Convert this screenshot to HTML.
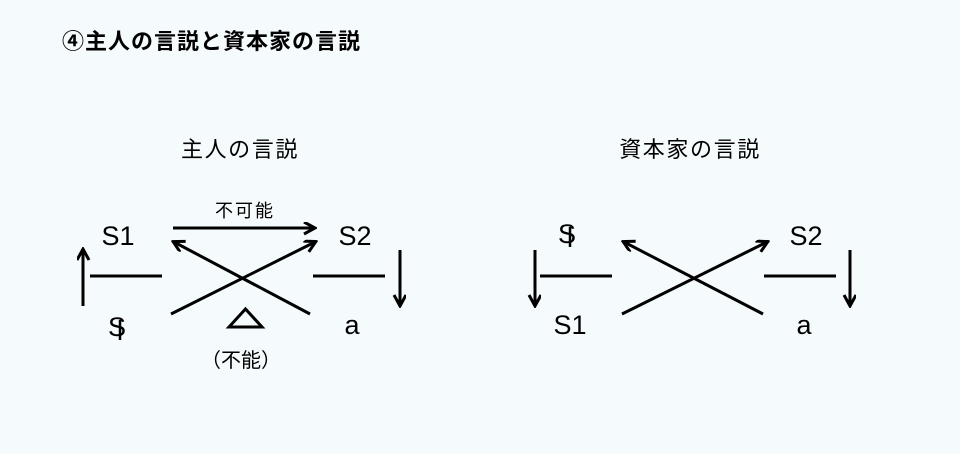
<!DOCTYPE html>
<html><head><meta charset="utf-8"><style>
html,body{margin:0;padding:0;background:#f5fafd;}
svg{display:block;}
text{font-family:"Liberation Sans","Noto Sans CJK JP",sans-serif;fill:#000;}
</style></head><body>
<svg width="960" height="454" viewBox="0 0 960 454" xmlns="http://www.w3.org/2000/svg">
<defs>
<marker id="ah" markerWidth="14" markerHeight="14" refX="11" refY="6" orient="auto" markerUnits="userSpaceOnUse">
<path d="M1,0 L12,6 L1,12" fill="none" stroke="#000" stroke-width="3"/>
</marker>
</defs>
<rect width="960" height="454" fill="#f5fafd"/>
<text x="62" y="49" font-size="22" font-weight="bold" letter-spacing="1">④主人の言説と資本家の言説</text>

<!-- left -->
<text x="240" y="157" font-size="22" text-anchor="middle" letter-spacing="1.6">主人の言説</text>
<text x="245" y="217" font-size="18" text-anchor="middle" letter-spacing="2">不可能</text>
<text x="118" y="245" font-size="27" text-anchor="middle">S1</text>
<text x="355" y="245" font-size="27" text-anchor="middle">S2</text>
<text x="117" y="336" font-size="27" text-anchor="middle">S</text>
<line x1="120" y1="320" x2="120" y2="340" stroke="#000" stroke-width="2.5"/>
<text x="352" y="334" font-size="27" text-anchor="middle">a</text>
<g stroke="#000" stroke-width="3" fill="none">
<line x1="173" y1="228" x2="314" y2="228" marker-end="url(#ah)"/>
<line x1="83" y1="306" x2="83" y2="250" marker-end="url(#ah)"/>
<line x1="90" y1="276" x2="162" y2="276"/>
<line x1="313" y1="276" x2="385" y2="276"/>
<line x1="400" y1="250" x2="400" y2="305" marker-end="url(#ah)"/>
<line x1="171" y1="314" x2="315" y2="242" marker-end="url(#ah)"/>
<line x1="310" y1="314" x2="174" y2="242" marker-end="url(#ah)"/>
<polygon points="229,327 262,327 245.5,309"/>
</g>
<text x="241" y="367" font-size="20" text-anchor="middle">（不能）</text>

<!-- right -->
<text x="690" y="157" font-size="22" text-anchor="middle" letter-spacing="1.6">資本家の言説</text>
<text x="567" y="243" font-size="27" text-anchor="middle">S</text>
<line x1="570" y1="227" x2="570" y2="247" stroke="#000" stroke-width="2.5"/>
<text x="570" y="334" font-size="27" text-anchor="middle">S1</text>
<text x="806" y="245" font-size="27" text-anchor="middle">S2</text>
<text x="804" y="334" font-size="27" text-anchor="middle">a</text>
<g stroke="#000" stroke-width="3" fill="none">
<line x1="535" y1="250" x2="535" y2="305" marker-end="url(#ah)"/>
<line x1="540" y1="276" x2="612" y2="276"/>
<line x1="764" y1="276" x2="836" y2="276"/>
<line x1="850" y1="250" x2="850" y2="305" marker-end="url(#ah)"/>
<line x1="622" y1="314" x2="767" y2="242" marker-end="url(#ah)"/>
<line x1="763" y1="314" x2="624" y2="242" marker-end="url(#ah)"/>
</g>
</svg>
</body></html>
